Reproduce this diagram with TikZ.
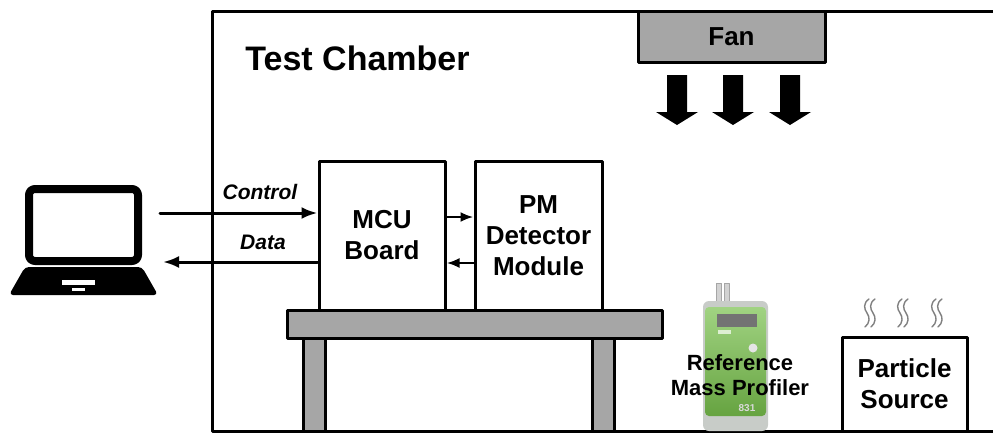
\documentclass[tikz,border=0pt]{standalone}
\usepackage{fontspec}
\setmainfont{Liberation Sans}
\usetikzlibrary{arrows.meta, positioning, calc}
\definecolor{boxgray}{RGB}{166, 166, 166}
\definecolor{devgreen}{RGB}{120, 192, 76}
\definecolor{devgray}{RGB}{200, 204, 200}
\tikzset{every node/.style={font=\bfseries}, every path/.style={line cap=round, line join=round}, >={Latex[length=8pt, width=6pt]}}

\begin{document}
\begin{tikzpicture}[
    x=0.5pt, y=-0.5pt,
    unit/.style={draw, line width=1.5pt, fill=white, align=center, inner sep=0pt,
        font=\fontsize{13}{15.5}\selectfont\bfseries},
    link/.style={->, line width=1.5pt},
    bus/.style={-{Latex[length=6.5pt, width=5pt]}, line width=1.3pt},
    lbl/.style={font=\fontsize{10.5}{12}\selectfont\bfseries\itshape}
]
    \useasboundingbox (0,0) rectangle (993,434);

    % chamber walls
    \draw [line width=1.5pt, line cap=butt] (993,11) -- (212,11) -- (212,431) -- (993,431);
    \node [anchor=base west, inner sep=0pt, font=\fontsize{17}{20}\selectfont\bfseries] (title) at (245,70) {Test Chamber};

    % fan and air flow
    \node [draw, line width=1.5pt, fill=boxgray, minimum width=93.5pt, minimum height=25.5pt,
        font=\fontsize{13}{15}\selectfont\bfseries] (fan) at (731.5,36.5) {Fan};
    \foreach \x in {677,733,790}
        \fill (\x-10,75) -- (\x+10,75) -- (\x+10,112) -- (\x+21,112) -- (\x,125) -- (\x-21,112) -- (\x-10,112) -- cycle;

    % table
    \filldraw [fill=boxgray, line width=1.5pt] (303,338) rectangle (325,431);
    \filldraw [fill=boxgray, line width=1.5pt] (592,338) rectangle (614,431);
    \node [draw, fill=boxgray, line width=1.5pt, minimum width=187.5pt, minimum height=14pt, inner sep=0pt] (table) at (474.5,324) {};

    % boards on the table
    \node [unit, minimum width=63pt, minimum height=74.5pt] (mcu) at (382,235.5) {MCU\\Board};
    \node [unit, minimum width=63.5pt, minimum height=74.5pt] (pm) at (538.5,235.5) {PM\\Detector\\Module};
    \draw [bus] ([yshift=9.25pt]mcu.east) -- ([yshift=9.25pt]pm.west);
    \draw [bus] ([yshift=-13.75pt]pm.west) -- ([yshift=-13.75pt]mcu.east);

    % laptop
    \node [draw, line width=4pt, rounded corners=3pt, minimum width=54.5pt, minimum height=36pt, inner sep=0pt] (laptop) at (83.5,225) {};
    \fill [rounded corners=2pt] (25,267) -- (142,267) -- (158,295) -- (9,295) -- cycle;
    \fill [white] (62,280) rectangle (95,285);
    \fill [white] (72,288) rectangle (85,291);

    \coordinate (pc-tx) at (160,213);
    \coordinate (pc-rx) at (163,262);
    \draw [link] (pc-tx) -- (pc-tx -| mcu.west);
    \draw [link] (pc-rx -| mcu.west) -- (pc-rx);
    \node [lbl] (ctrl-lbl) at (260,192) {Control};
    \node [lbl] (data-lbl) at (263,242) {Data};

    % reference instrument
    \filldraw [fill=gray!35, draw=gray!70, line width=0.4pt] (716,283) rectangle (721,303);
    \filldraw [fill=gray!35, draw=gray!70, line width=0.4pt] (724,283) rectangle (729,303);
    \fill [devgray, rounded corners=3pt] (703,301) rectangle (768,431);
    \shade [top color=devgreen!70!white, bottom color=devgreen!85!black, rounded corners=2pt] (705,307) rectangle (766,416);
    \fill [black!55] (717,314) rectangle (757,327);
    \fill [white!75!devgreen] (718,330) rectangle (731,334);
    \fill [white!80!gray] (753,348) circle (4.5);
    \node [text=white!70!gray, font=\fontsize{5}{6}\selectfont\bfseries] (model) at (747,408) {831};
    \node [align=center, font=\fontsize{11}{12.5}\selectfont\bfseries] (profiler) at (740,375.5) {Reference\\Mass Profiler};

    % particle source with smoke
    \node [unit, minimum width=62.5pt, minimum height=47pt] (source) at (904.5,384) {Particle\\Source};
    \foreach \x in {870,903,937}
        \foreach \d in {-3,3}
            \draw [gray, line width=0.7pt] (\x+\d+2,299) .. controls (\x+\d-4,303) and (\x+\d-3,309) .. (\x+\d,313)
                .. controls (\x+\d+3,317) and (\x+\d+3,323) .. (\x+\d-2,327);
\end{tikzpicture}
\end{document}
